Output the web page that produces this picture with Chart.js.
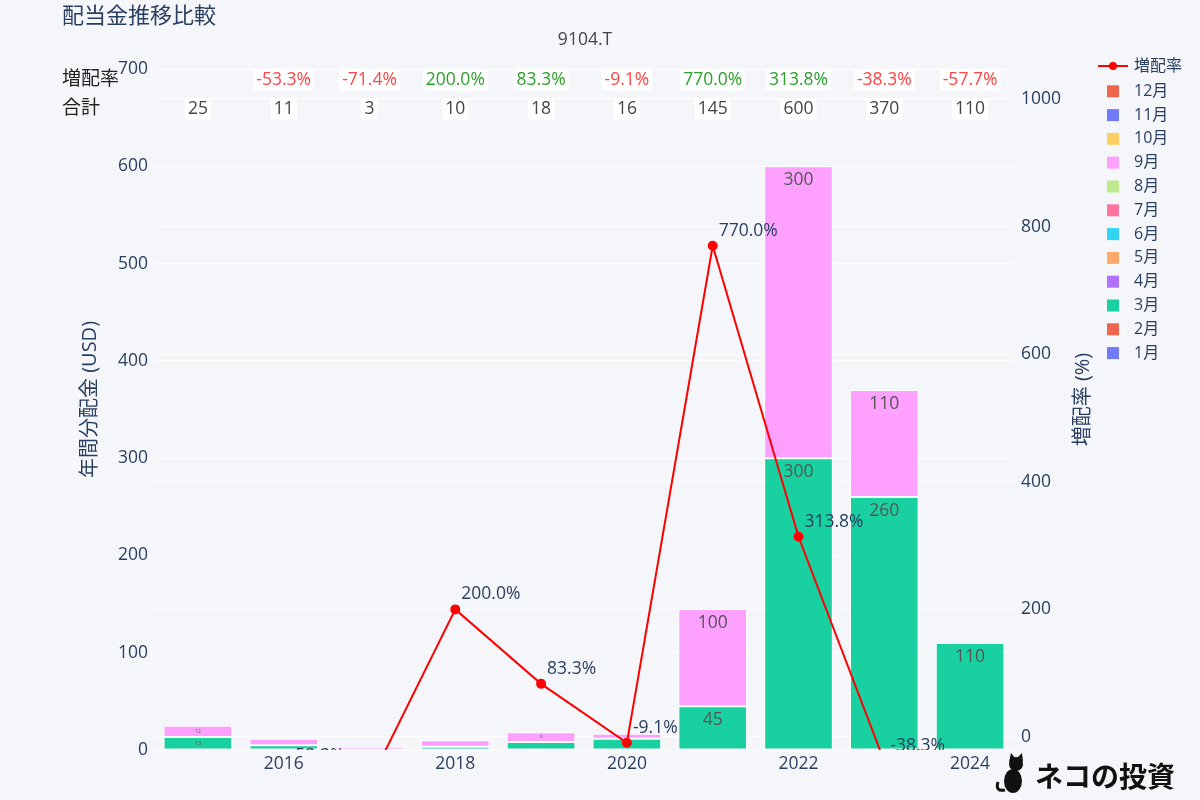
<!DOCTYPE html>
<html>
<head>
<meta charset="utf-8">
<script src="https://cdn.jsdelivr.net/npm/chart.js@4.4.1/dist/chart.umd.min.js"></script>
<style>
  html, body { margin: 0; padding: 0; background: #f5f6fa; }
  #wrap { width: 1200px; height: 800px; position: relative; }
</style>
</head>
<body>
<div id="wrap"><canvas id="chartDividend" width="1200" height="800"></canvas></div>
<script>
/* ---- Data ---- */
const years = ["2015", "2016", "2017", "2018", "2019", "2020", "2021", "2022", "2023", "2024"];
const marchValues = [13.33, 5, null, 3.33, 8.33, 11.67, 45, 300, 260, 110];
const septemberValues = [11.67, 6.67, 3.33, 6.67, 10, 5, 100, 300, 110, null];
const growthRates = [null, -53.3, -71.4, 200.0, 83.3, -9.1, 770.0, 313.8, -38.3, -57.7];
const totals = [25, 11, 3, 10, 18, 16, 145, 600, 370, 110];
const monthNames = ["1月", "2月", "3月", "4月", "5月", "6月", "7月", "8月", "9月", "10月", "11月", "12月"];
const leftTicks = [0, 100, 200, 300, 400, 500, 600, 700];
const rightTicks = [0, 200, 400, 600, 800, 1000];

const monthColors = [
  "rgba(99,110,250,0.9)", "rgba(239,85,59,0.9)", "rgba(0,204,150,0.9)", "rgba(171,99,250,0.9)",
  "rgba(255,161,90,0.9)", "rgba(25,211,243,0.9)", "rgba(255,102,146,0.9)", "rgba(182,232,128,0.9)",
  "rgba(255,151,255,0.9)", "rgba(254,203,82,0.9)", "rgba(99,110,250,0.9)", "rgba(239,85,59,0.9)",
];

const FONT = "'Open Sans', 'Noto Sans CJK JP', sans-serif";
const INK = "#2a3f5f";
const FS = 17.5;

function monthData(idx) {
  if (idx === 2) return marchValues;
  if (idx === 8) return septemberValues;
  return years.map(() => null);
}

/* ---- Overlay drawing: labels, table, legend, titles ---- */
const overlay = {
  id: "overlay",
  afterDatasetsDraw(chart) {
    const { ctx, chartArea } = chart;
    ctx.save();
    ctx.textAlign = "center";
    ctx.textBaseline = "middle";
    ctx.fillStyle = "#555";
    // bar segment labels
    chart.data.datasets.forEach((ds, di) => {
      if (ds.type === "line") return;
      const meta = chart.getDatasetMeta(di);
      meta.data.forEach((bar, i) => {
        const v = ds.data[i];
        if (v == null) return;
        const h = bar.base - bar.y;
        const fs = Math.min(FS, Math.max(0, (h - 6) * 0.9));
        if (fs < 3) return;
        ctx.font = `${fs}px ${FONT}`;
        ctx.fillText(String(Math.round(v)), bar.x, bar.y + Math.min(14, h / 2));
      });
    });
    // growth labels, clipped to plot
    ctx.beginPath();
    ctx.rect(chartArea.left, chartArea.top, chartArea.right - chartArea.left, chartArea.bottom - chartArea.top);
    ctx.clip();
    ctx.textAlign = "left";
    ctx.fillStyle = INK;
    ctx.font = `${FS}px ${FONT}`;
    const lineIdx = chart.data.datasets.findIndex((d) => d.type === "line");
    chart.getDatasetMeta(lineIdx).data.forEach((pt, i) => {
      if (growthRates[i] == null) return;
      ctx.fillText(growthRates[i].toFixed(1) + "%", pt.x + 6, pt.y - 15);
    });
    ctx.restore();
  },
  afterDraw(chart) {
    const { ctx, chartArea, scales } = chart;
    ctx.save();

    // title + subtitle
    ctx.fillStyle = INK;
    ctx.font = `22px ${FONT}`;
    ctx.textAlign = "left";
    ctx.textBaseline = "middle";
    ctx.fillText("配当金推移比較", 62, 17);
    ctx.fillStyle = "#444";
    ctx.font = `${FS}px ${FONT}`;
    ctx.textAlign = "center";
    ctx.fillText("9104.T", 585, 40);

    // table rows
    ctx.fillStyle = "#222";
    ctx.font = `19px ${FONT}`;
    ctx.textAlign = "left";
    ctx.fillText("増配率", 62, 80);
    ctx.fillText("合計", 62, 109);
    ctx.font = `${FS}px ${FONT}`;
    ctx.textAlign = "center";
    years.forEach((y, i) => {
      const x = scales.x.getPixelForValue(i);
      const rows = [];
      if (growthRates[i] != null) {
        rows.push({ t: growthRates[i].toFixed(1) + "%", y: 80, c: growthRates[i] < 0 ? "#ff4444" : "#2ca02c" });
      }
      rows.push({ t: String(totals[i]), y: 109, c: "#444" });
      rows.forEach((r) => {
        const w = ctx.measureText(r.t).width + 6;
        ctx.fillStyle = "#ffffff";
        ctx.fillRect(x - w / 2, r.y - 10.5, w, 21);
        ctx.fillStyle = r.c;
        ctx.fillText(r.t, x, r.y);
      });
    });

    // axis titles
    ctx.fillStyle = INK;
    ctx.font = `20px ${FONT}`;
    const midY = (chartArea.top + chartArea.bottom) / 2;
    [[90, "年間分配金 (USD)"], [1083, "増配率 (%)"]].forEach(([x, t]) => {
      ctx.save();
      ctx.translate(x, midY - 10);
      ctx.rotate(-Math.PI / 2);
      ctx.fillText(t, 0, 0);
      ctx.restore();
    });

    // legend
    ctx.textAlign = "left";
    ctx.font = `16px ${FONT}`;
    ctx.strokeStyle = "#ff0000";
    ctx.lineWidth = 2;
    ctx.beginPath();
    ctx.moveTo(1098, 66);
    ctx.lineTo(1128, 66);
    ctx.stroke();
    ctx.fillStyle = "#ff0000";
    ctx.beginPath();
    ctx.arc(1113, 66, 4, 0, Math.PI * 2);
    ctx.fill();
    ctx.fillStyle = INK;
    ctx.fillText("増配率", 1134, 66);
    for (let k = 11; k >= 0; k--) {
      const yy = 91.3 + (11 - k) * 23.8;
      ctx.fillStyle = monthColors[k];
      ctx.fillRect(1107, yy - 6, 12, 12);
      ctx.fillStyle = INK;
      ctx.fillText(monthNames[k], 1134, yy);
    }

    // logo
    ctx.fillStyle = "#111";
    ctx.beginPath();
    ctx.ellipse(1013, 781, 9, 12, 0, 0, Math.PI * 2);
    ctx.fill();
    ctx.beginPath();
    ctx.arc(1016, 764, 7, 0, Math.PI * 2);
    ctx.fill();
    ctx.beginPath();
    ctx.moveTo(1009, 762); ctx.lineTo(1011, 753); ctx.lineTo(1015, 758);
    ctx.moveTo(1017, 758); ctx.lineTo(1022, 753); ctx.lineTo(1023, 762);
    ctx.fill();
    ctx.lineWidth = 3;
    ctx.strokeStyle = "#111";
    ctx.beginPath();
    ctx.moveTo(1005, 790);
    ctx.quadraticCurveTo(995, 792, 998, 782);
    ctx.stroke();
    ctx.font = `bold 28px 'Noto Sans CJK JP', sans-serif`;
    ctx.fillText("ネコの投資", 1035, 776);

    ctx.restore();
  },
};

/* ---- Chart ---- */
const datasets = [
  {
    type: "line",
    label: "増配率",
    data: growthRates,
    yAxisID: "y1",
    borderColor: "#ff0000",
    backgroundColor: "#ff0000",
    borderWidth: 2,
    pointRadius: 4,
    pointHoverRadius: 4,
    tension: 0,
    order: 0,
  },
  ...monthNames.map((m, k) => ({
    type: "bar",
    label: m,
    data: monthData(k),
    yAxisID: "y",
    backgroundColor: monthColors[k],
    borderColor: "rgba(255,255,255,0.9)",
    borderWidth: 1,
    borderSkipped: false,
    categoryPercentage: 1,
    barPercentage: 0.8,
    stack: "m",
    order: 1,
  })),
];

new Chart(document.getElementById("chartDividend"), {
  data: { labels: years, datasets },
  plugins: [overlay],
  options: {
    responsive: false,
    animation: false,
    layout: { padding: { top: 69, right: 130, left: 0, bottom: 0 } },
    plugins: { legend: { display: false }, tooltip: { enabled: false } },
    scales: {
      x: {
        stacked: true,
        grid: { display: false },
        border: { display: false },
        ticks: {
          autoSkip: false,
          maxRotation: 0,
          padding: -4,
          color: INK,
          font: { family: FONT, size: FS },
          callback: (v, i) => (Number(years[i]) % 2 === 0 ? years[i] : ""),
        },
        afterFit: (s) => { s.height = 50; },
      },
      y: {
        stacked: true,
        position: "left",
        min: 0,
        max: 700,
        grid: { color: "#ffffff", lineWidth: 1, drawTicks: false },
        border: { display: false },
        ticks: { padding: 7, color: INK, font: { family: FONT, size: FS } },
        afterBuildTicks: (s) => { s.ticks = leftTicks.map((v) => ({ value: v })); },
        afterFit: (s) => { s.width = 155; },
      },
      y1: {
        position: "right",
        min: -20.4,
        max: 1047,
        grid: { color: "#ffffff", lineWidth: 1, drawTicks: false },
        border: { display: false },
        ticks: {
          padding: 8,
          color: INK,
          font: { family: FONT, size: FS },
          callback: (v) => String(v),
        },
        afterBuildTicks: (s) => { s.ticks = rightTicks.map((v) => ({ value: v })); },
        afterFit: (s) => { s.width = 57; },
      },
    },
  },
});
</script>
</body>
</html>
